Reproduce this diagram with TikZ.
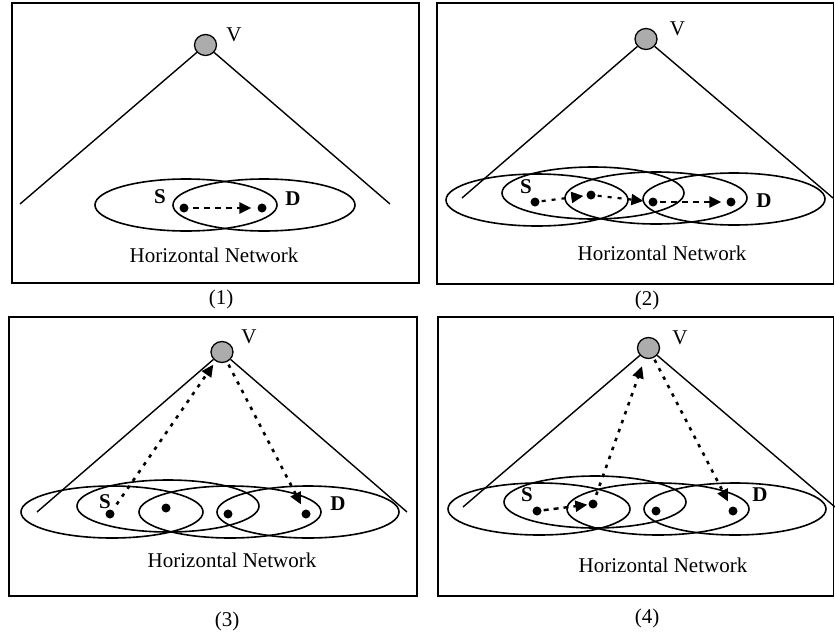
\documentclass[tikz,border=0pt]{standalone}
\usepackage{fontspec}
\setmainfont{Liberation Serif}
\usetikzlibrary{arrows.meta,shapes.geometric}

\tikzset{
  frame/.style={draw, line width=1.6pt},
  vnode/.style={ellipse, draw, line width=1.3pt, fill=gray!65,
    minimum width=22pt, minimum height=21pt, inner sep=0pt},
  dot/.style={circle, fill=black, minimum size=9pt, inner sep=0pt},
  radiorange/.style={line width=1.6pt},
  coneline/.style={line width=1.4pt},
  lbl/.style={font=\fontsize{21}{25}\selectfont, inner sep=0pt},
  bl/.style={font=\fontsize{21}{25}\selectfont\bfseries, inner sep=0pt},
  hoparrow/.style={line width=2.6pt, dash pattern=on 6pt off 5pt,
    -{Triangle[length=12pt,width=11pt]}},
  relayarrow/.style={line width=2.6pt, dash pattern=on 3.5pt off 6pt,
    -{Triangle[length=12pt,width=11pt]}}
}

\begin{document}
\begin{tikzpicture}[x=1pt,y=-1pt]
\useasboundingbox (0,0) rectangle (835,635);

% ---------------- (1): direct horizontal hop ----------------
\draw[frame] (12,3) rectangle (419,283);
\draw[radiorange] (186,205) ellipse [x radius=91pt, y radius=26pt];
\draw[radiorange] (264,205) ellipse [x radius=91pt, y radius=26pt];
\node[vnode] (v1) at (205.5,45) {};
\node[lbl] (v1t) at (234,35) {V};
\coordinate (l1) at (20,204);
\coordinate (r1) at (390,204);
\draw[coneline] (v1) -- (l1);
\draw[coneline] (v1) -- (r1);
\node[dot] (s1) at (184,208) {};
\node[dot] (d1) at (262,208) {};
\node[bl] (s1t) at (160,197) {S};
\node[bl] (d1t) at (293,199) {D};
\draw[hoparrow, shorten <=4pt, shorten >=6pt] (s1) -- (d1);
\node[lbl] (h1) at (214,255) {Horizontal Network};
\node[lbl] (c1) at (221,299) {(1)};

% ---------------- (2): multi-hop horizontal path ----------------
\draw[frame] (437,3) rectangle (833.5,284);
\draw[radiorange] (537,200) ellipse [x radius=91pt, y radius=26pt];
\draw[radiorange] (593,193) ellipse [x radius=91pt, y radius=26pt];
\draw[radiorange] (656,198) ellipse [x radius=91pt, y radius=26pt];
\draw[radiorange] (734,199) ellipse [x radius=91pt, y radius=26pt];
\node[vnode] (v2) at (646,39) {};
\node[lbl] (v2t) at (677.5,29) {V};
\coordinate (l2) at (462,198);
\coordinate (r2) at (833,198);
\draw[coneline] (v2) -- (l2);
\draw[coneline] (v2) -- (r2);
\node[dot] (s2) at (535,202) {};
\node[dot] (a2) at (591,195) {};
\node[dot] (b2) at (653,202) {};
\node[dot] (d2) at (731,202) {};
\node[bl] (s2t) at (526,187) {S};
\node[bl] (d2t) at (764,201) {D};
\draw[hoparrow, line width=2.2pt, dash pattern=on 4pt off 6pt, shorten <=2pt, shorten >=3pt] (s2) -- (a2);
\draw[hoparrow, line width=2.2pt, dash pattern=on 4pt off 6pt, shorten <=2pt, shorten >=5pt] (a2) -- (b2);
\draw[hoparrow, shorten <=2pt, shorten >=5pt] (b2) -- (d2);
\node[lbl] (h2) at (662,253) {Horizontal Network};
\node[lbl] (c2) at (647,300) {(2)};

% ---------------- (3): path relayed through V ----------------
\draw[frame] (9,317) rectangle (417,596);
\draw[radiorange] (112,512) ellipse [x radius=91pt, y radius=26pt];
\draw[radiorange] (168,506) ellipse [x radius=91pt, y radius=26pt];
\draw[radiorange] (230,512) ellipse [x radius=91pt, y radius=26pt];
\draw[radiorange] (308,512) ellipse [x radius=91pt, y radius=26pt];
\node[vnode] (v3) at (222,352) {};
\node[lbl] (v3t) at (249,337) {V};
\coordinate (l3) at (37,512);
\coordinate (r3) at (407,512);
\draw[coneline] (v3) -- (l3);
\draw[coneline] (v3) -- (r3);
\node[dot] (s3) at (110,514) {};
\node[dot] (a3) at (166,508) {};
\node[dot] (b3) at (228,514) {};
\node[dot] (d3) at (306,514) {};
\node[bl] (s3t) at (105,502) {S};
\node[bl] (d3t) at (338,504) {D};
\draw[relayarrow, shorten <=7pt, shorten >=4pt] (s3) -- (v3);
\draw[relayarrow, shorten <=3pt, shorten >=6pt] (v3) -- (d3);
\node[lbl] (h3) at (232,560) {Horizontal Network};
\node[lbl] (c3) at (227,621) {(3)};

% ---------------- (4): one hop, then relayed through V ----------------
\draw[frame] (438,317) rectangle (833.5,596);
\draw[radiorange] (539,509) ellipse [x radius=91pt, y radius=26pt];
\draw[radiorange] (595,502) ellipse [x radius=91pt, y radius=26pt];
\draw[radiorange] (658,509) ellipse [x radius=91pt, y radius=26pt];
\draw[radiorange] (735,509) ellipse [x radius=91pt, y radius=26pt];
\node[vnode] (v4) at (648.5,348) {};
\node[lbl] (v4t) at (680,338) {V};
\coordinate (l4) at (463,507);
\coordinate (r4) at (835,507);
\draw[coneline] (v4) -- (l4);
\draw[coneline] (v4) -- (r4);
\node[dot] (s4) at (537,511) {};
\node[dot] (a4) at (593,504) {};
\node[dot] (b4) at (656,511) {};
\node[dot] (d4) at (733,511) {};
\node[bl] (s4t) at (527,495) {S};
\node[bl] (d4t) at (760,495) {D};
\draw[hoparrow, line width=2.4pt, dash pattern=on 5pt off 5pt, shorten <=2pt, shorten >=1pt] (s4) -- (a4);
\draw[relayarrow, shorten <=5pt, shorten >=8pt] (a4) -- (v4);
\draw[relayarrow, shorten <=2pt, shorten >=6pt] (v4) -- (d4);
\node[lbl] (h4) at (663,565) {Horizontal Network};
\node[lbl] (c4) at (647,618) {(4)};
\end{tikzpicture}
\end{document}
